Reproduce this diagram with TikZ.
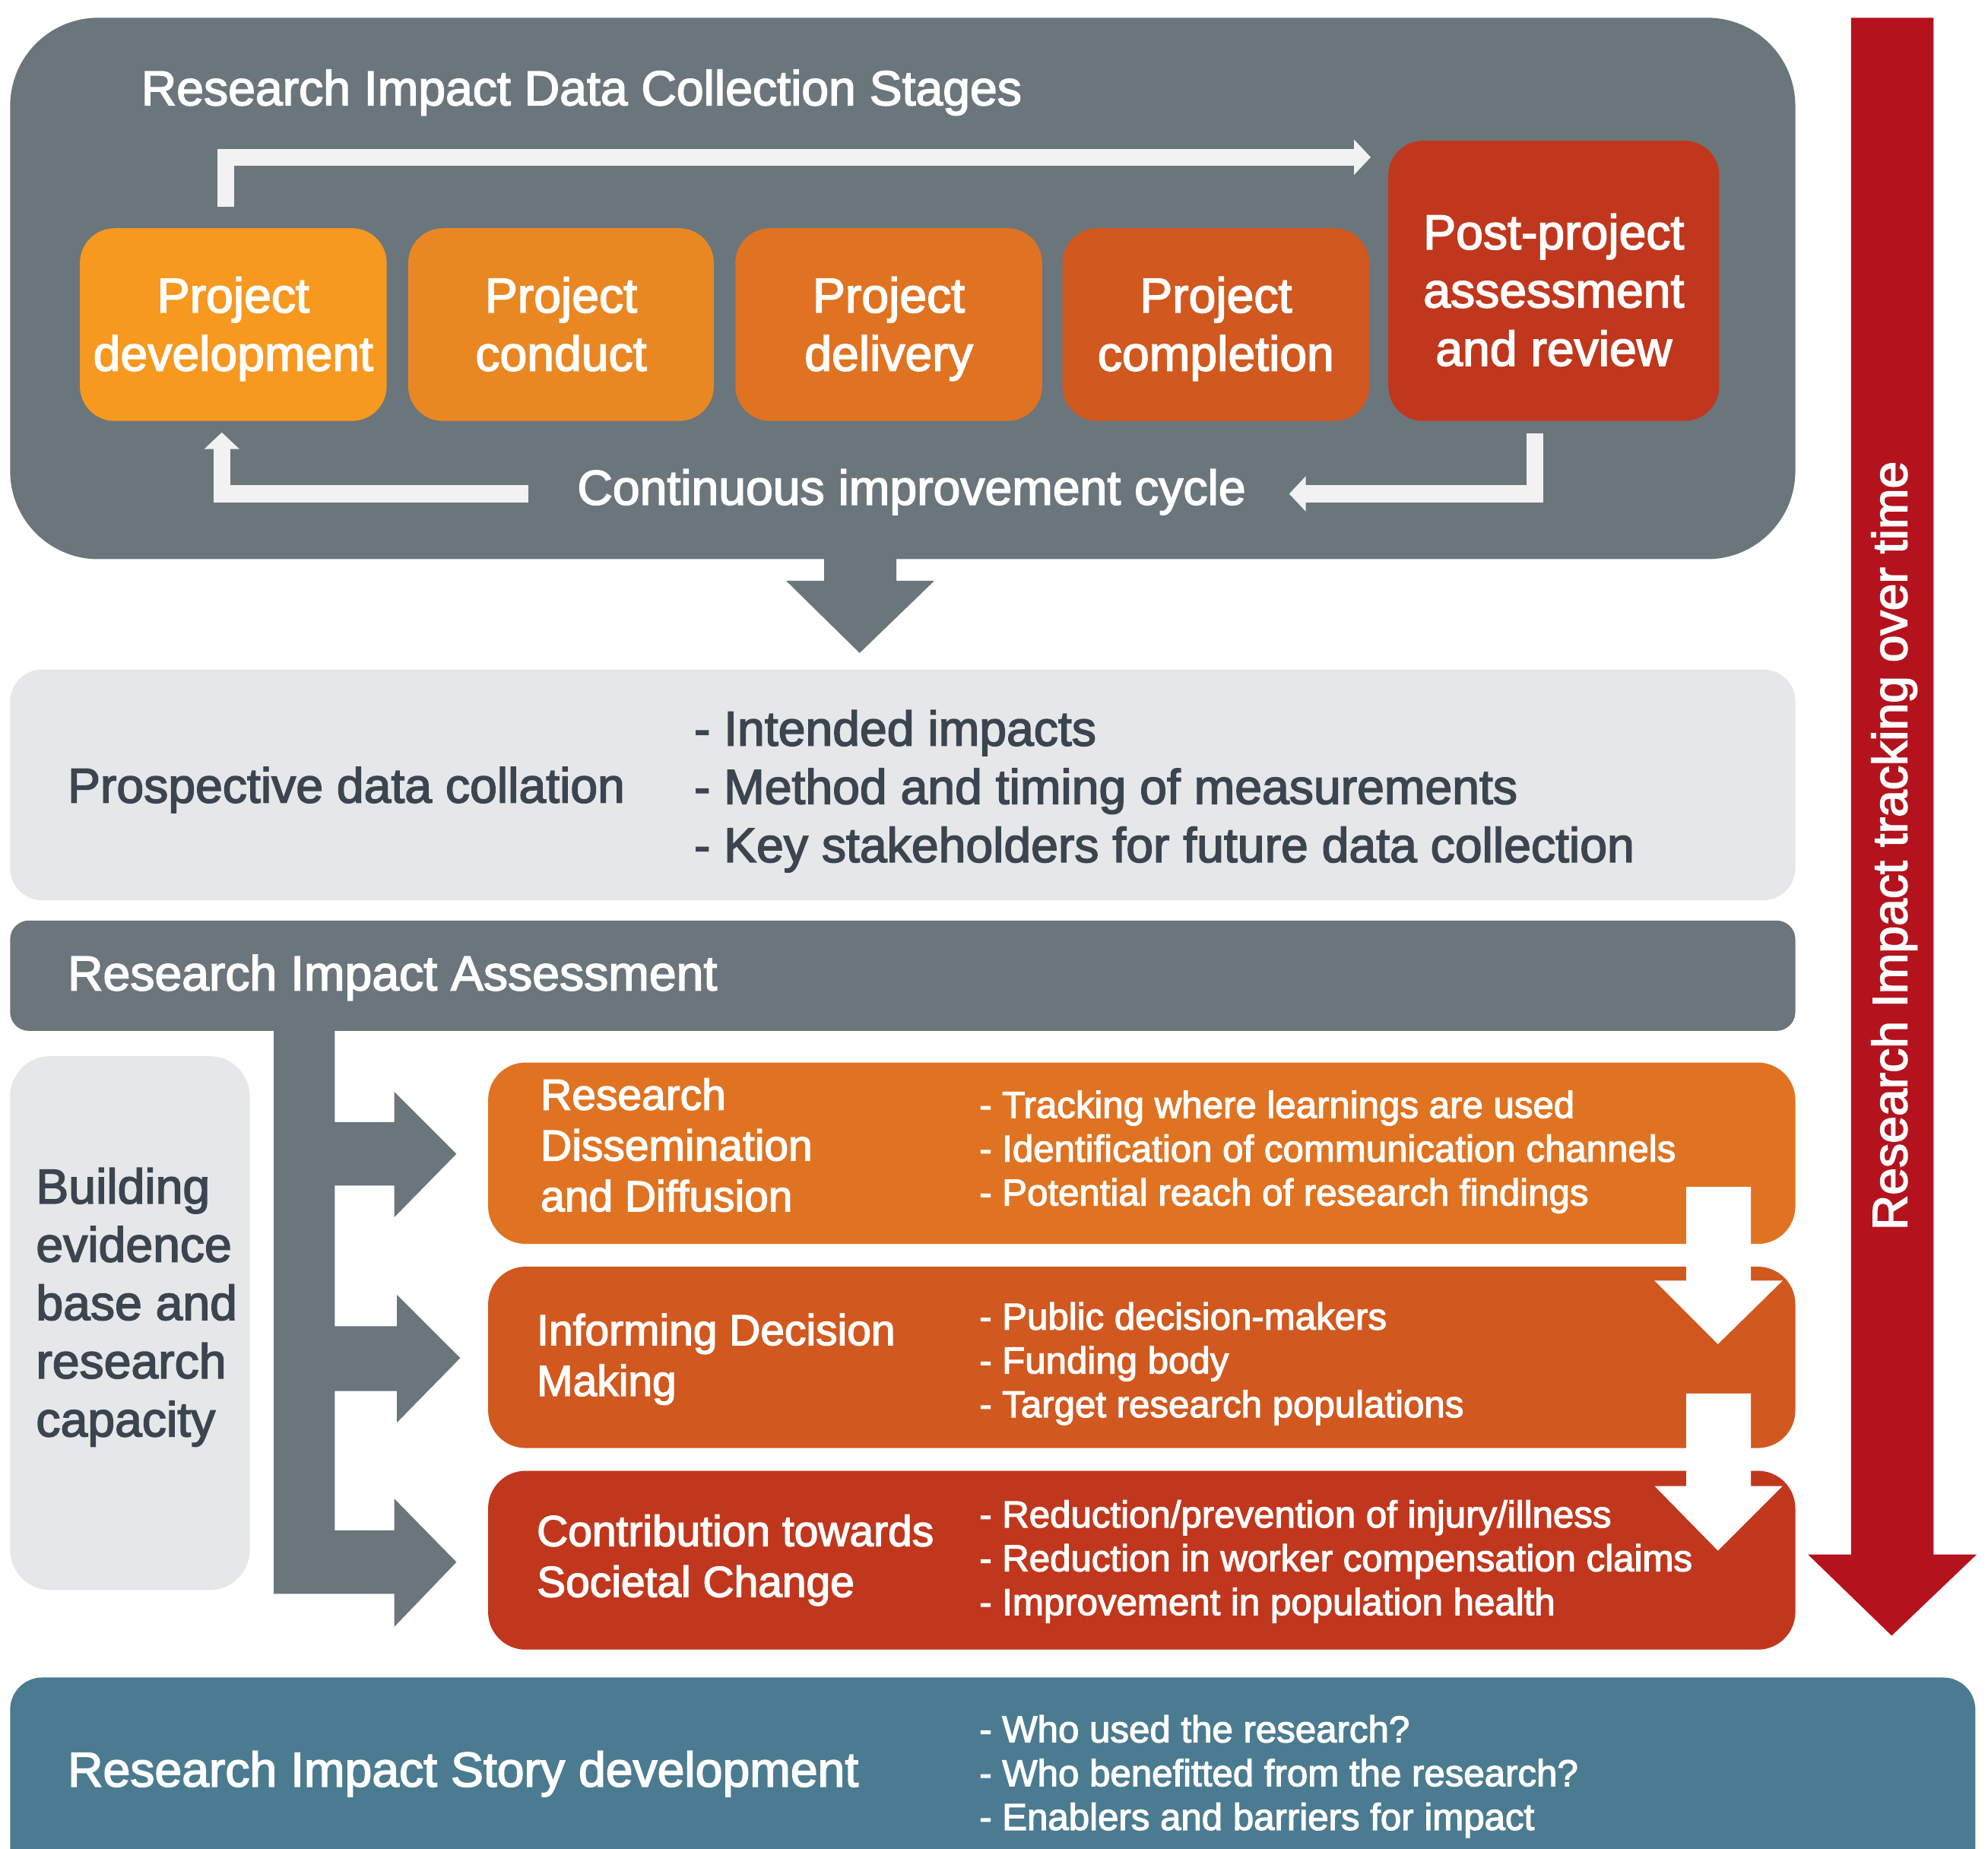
\documentclass[tikz,border=0pt]{standalone}
\usepackage{fontspec}
\setmainfont{Liberation Sans}[UprightFeatures={FakeBold=2.5}]
\usetikzlibrary{positioning, fit, arrows.meta}

\definecolor{slate}{HTML}{6B757C}
\definecolor{pale}{HTML}{E6E7E8}
\definecolor{ink}{HTML}{3B4550}
\definecolor{rail}{HTML}{F2F2F2}
\definecolor{stA}{HTML}{F7981F}
\definecolor{stB}{HTML}{E98822}
\definecolor{stC}{HTML}{E07321}
\definecolor{stD}{HTML}{D1581F}
\definecolor{stE}{HTML}{C0371D}
\definecolor{crimson}{HTML}{B4131E}
\definecolor{storyblue}{HTML}{4B7B90}
\newcommand{\stagefont}{\fontsize{18.3}{21.8}\selectfont}
\newcommand{\headfont}{\fontsize{16.2}{19}\selectfont}
\newcommand{\notefont}{\fontsize{14}{16.4}\selectfont}

\begin{document}
\begin{tikzpicture}[x=0.01668cm, y=-0.01668cm,
    panel/.style={inner sep=0pt, outer sep=0pt, rounded corners=#1}, panel/.default=12pt,
    stagebox/.style={panel=13pt},
    stagetext/.style={inner sep=0pt, text=white, font=\stagefont, align=center, yshift=-1.6pt},
    txt/.style={inner sep=0pt, anchor=west, text=white, font=\stagefont, align=left},
    hdr/.style={inner sep=0pt, anchor=west, text=white, font=\headfont, align=left},
    bullets/.style={inner sep=0pt, anchor=west, text=white, font=\notefont, align=left},
    railarrow/.style={draw=rail, line width=6.4pt, -{Triangle[length=6.2pt, width=12.8pt]}}]
    \useasboundingbox (0,0) rectangle (1568,1458);
    \clip (0,0) rectangle (1568,1458);
    \fill[white] (0,0) rectangle (1568,1458);

    % Data collection stages
    \node[panel=33pt, fill=slate, fit={(8,14) (1416,441)}] (stages) {};
    \node[txt] (stagestitle) at (111,73) {Research Impact Data Collection Stages};
    \node[stagebox, fill=stA, fit={(63,180) (305,332)}] (dev) {};
    \node[stagebox, fill=stB, fit={(322,180) (563,332)}] (conduct) {};
    \node[stagebox, fill=stC, fit={(580,180) (822,332)}] (delivery) {};
    \node[stagebox, fill=stD, fit={(838,180) (1080,332)}] (completion) {};
    \node[stagebox, fill=stE, fit={(1095,111) (1356,332)}] (post) {};
    \node[stagetext] (devlabel) at (dev) {Project\\development};
    \node[stagetext, yshift=1.8pt] (conductlabel) at (conduct) {Project\\conduct};
    \node[stagetext] (deliverylabel) at (delivery) {Project\\delivery};
    \node[stagetext] (completionlabel) at (completion) {Project\\completion};
    \node[stagetext, yshift=-1.8pt] (postlabel) at (post) {Post-project\\assessment\\and review};
    \coordinate (toprail) at (1095,124);
    \draw[railarrow, shorten <=8pt, shorten >=6.6pt] ([xshift=-2.8pt]dev.north) |- (toprail);
    % Improvement cycle
    \node[inner sep=0pt, text=white, font=\stagefont] (cycle) at (719,388) {Continuous improvement cycle};
    \draw[railarrow, shorten <=4.7pt, shorten >=16pt] ([xshift=-7pt]post.south) |- ([yshift=-0.7pt]cycle.east);
    \draw[railarrow, shorten <=18pt, shorten >=4.3pt] ([yshift=-0.7pt]cycle.west) -| ([xshift=-4.3pt]dev.south);

    % Down into collation
    \fill[slate] (650,440) -- (707,440) -- (707,458) -- (737,458) -- (678,515) -- (620,458) -- (650,458) -- cycle;

    % Prospective data collation
    \node[panel=12pt, fill=pale, fit={(8,528) (1416,710)}] (prosp) {};
    \node[txt, text=ink] (prosplabel) at (53,623) {Prospective data collation};
    \node[txt, text=ink] (prosplist) at (547,624) {- Intended impacts\\- Method and timing of measurements\\- Key stakeholders for future data collection};

    % Impact assessment
    \node[panel=7pt, fill=slate, fit={(8,726) (1416,813)}] (assess) {};
    \node[txt] (assesslabel) at (53,771) {Research Impact Assessment};
    \node[panel=15pt, fill=pale, fit={(8,833) (197,1254)}] (capacity) {};
    \node[txt, text=ink] (capacitylabel) at (28,1031) {Building\\evidence\\base and\\research\\capacity};
    \fill[slate] (216,812) -- (264,812) -- (264,885) -- (311,885) -- (311,861) -- (360,910) -- (311,960) -- (311,935)
        -- (264,935) -- (264,1046) -- (313,1046) -- (313,1021) -- (363,1071) -- (313,1122) -- (313,1097)
        -- (264,1097) -- (264,1207) -- (311,1207) -- (311,1182) -- (360,1232) -- (311,1283) -- (311,1257)
        -- (216,1257) -- cycle;

    \node[panel=14pt, fill=stC, fit={(385,838) (1416,981)}] (diffusion) {};
    \node[hdr] (diffusionhdr) at (426,903) {Research\\Dissemination\\and Diffusion};
    \node[bullets] (diffusionlist) at (772,908.5) {- Tracking where learnings are used\\- Identification of communication channels\\- Potential reach of research findings};
    \node[panel=14pt, fill=stD, fit={(385,999) (1416,1142)}] (decision) {};
    \node[hdr] (decisionhdr) at (423,1072) {Informing Decision\\Making};
    \node[bullets] (decisionlist) at (772,1075.5) {- Public decision-makers\\- Funding body\\- Target research populations};
    \node[panel=14pt, fill=stE, fit={(385,1160) (1416,1301)}] (societal) {};
    \node[hdr] (societalhdr) at (423,1230.5) {Contribution towards\\Societal Change};
    \node[bullets] (societallist) at (772,1231.5) {- Reduction/prevention of injury/illness\\- Reduction in worker compensation claims\\- Improvement in population health};
    \fill[white] (1330,936) -- (1381,936) -- (1381,1010) -- (1406,1010) -- (1355,1060) -- (1305,1010) -- (1330,1010) -- cycle;
    \fill[white] (1330,1099) -- (1381,1099) -- (1381,1172) -- (1406,1172) -- (1355,1223) -- (1305,1172) -- (1330,1172) -- cycle;

    % Tracking over time
    \fill[crimson] (1460,14) -- (1525,14) -- (1525,1226) -- (1559,1226) -- (1492,1290) -- (1426,1226) -- (1460,1226) -- cycle;
    \node[inner sep=0pt, rotate=90, text=white, font=\stagefont] (tracking) at (1494,667) {Research Impact tracking over time};

    % Impact story
    \node[panel=12pt, fill=storyblue, fit={(8,1323) (1558,1520)}] (story) {};
    \node[txt] (storylabel) at (53,1399) {Research Impact Story development};
    \node[bullets] (storylist) at (772,1401) {- Who used the research?\\- Who benefitted from the research?\\- Enablers and barriers for impact};
\end{tikzpicture}
\end{document}
